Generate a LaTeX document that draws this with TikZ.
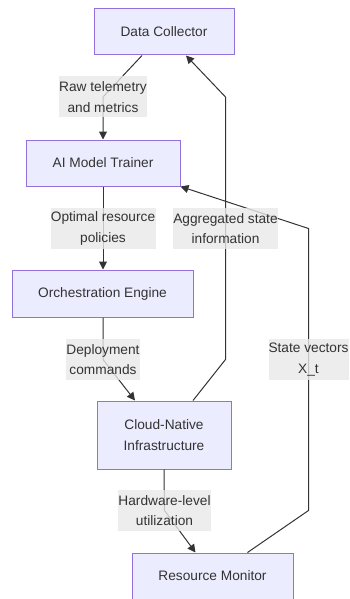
\documentclass[tikz,border=0pt]{standalone}
\usepackage{fontspec}
\setmainfont{Liberation Sans}
\usetikzlibrary{arrows.meta}
\definecolor{boxfill}{HTML}{ECECFF}
\definecolor{boxline}{HTML}{9370DB}
\definecolor{lblfill}{HTML}{E8E8E8}
\definecolor{ink}{HTML}{333333}
\newcommand{\flowfont}{\fontsize{13.7}{20.5}\selectfont}

\begin{document}
\begin{tikzpicture}[x=1pt,y=-1pt,line width=1pt,
  box/.style={draw=boxline,fill=boxfill,text=ink,font=\flowfont,align=center,
    inner sep=0pt,minimum height=46pt},
  lbl/.style={fill=lblfill,fill opacity=0.8,text opacity=1,text=ink,font=\flowfont,
    align=center,inner sep=0pt,minimum height=41pt},
  flow/.style={draw=ink,-{Triangle[length=8pt,width=8pt]}}]
  \useasboundingbox (0,0) rectangle (350,599);
  %
  \node[box,minimum width=140pt] (dc) at (164,32) {Data Collector};
  \node[box,minimum width=154pt] (trainer) at (103,163) {AI Model Trainer};
  \node[box,minimum width=181pt,minimum height=47pt] (orch) at (102.5,293.5) {Orchestration Engine};
  \node[box,minimum width=134pt,minimum height=68pt] (infra) at (164,435) {Cloud-Native\\Infrastructure};
  \node[box,minimum width=161pt] (monitor) at (212.5,576) {Resource Monitor};
  %
  \coordinate (rawc) at (103,97);        % label spots, also the bends
  \coordinate (polc) at (103,228.5);
  \coordinate (aggc) at (225.5,228.5);
  \coordinate (depc) at (103,359.5);
  \coordinate (svc) at (308.5,359.5);
  \coordinate (hwc) at (164.5,510.5);
  %
  \draw[flow] ([xshift=-22pt]dc.south) -- (rawc) -- (trainer.south |- trainer.north);
  \draw[flow] (trainer.south) -- (trainer.south |- orch.north);
  \draw[flow] (orch.south -| depc) -- (depc) -- ([xshift=-29pt]infra.north);
  \draw[flow] ([xshift=29pt]infra.north) -- (aggc |- depc) -- (aggc |- rawc) -- ([xshift=22pt]dc.south);
  \draw[flow] (infra.south) -- (hwc) -- ([xshift=-17pt]monitor.north);
  \draw[flow] ([xshift=35pt]monitor.north) -- (svc |- hwc) -- (svc |- polc) -- (trainer.south east);
  %
  \node[lbl,minimum width=88pt] (raw) at (rawc) {Raw telemetry\\and metrics};
  \node[lbl,minimum width=105pt] (pol) at (polc) {Optimal resource\\policies};
  \node[lbl,minimum width=105pt] (agg) at (aggc) {Aggregated state\\information};
  \node[lbl,minimum width=73pt] (dep) at (depc) {Deployment\\commands};
  \node[lbl,minimum width=80pt] (svec) at (svc) {State vectors\\X\_t};
  \node[lbl,minimum width=93pt] (hw) at (hwc) {Hardware-level\\utilization};
\end{tikzpicture}
\end{document}
